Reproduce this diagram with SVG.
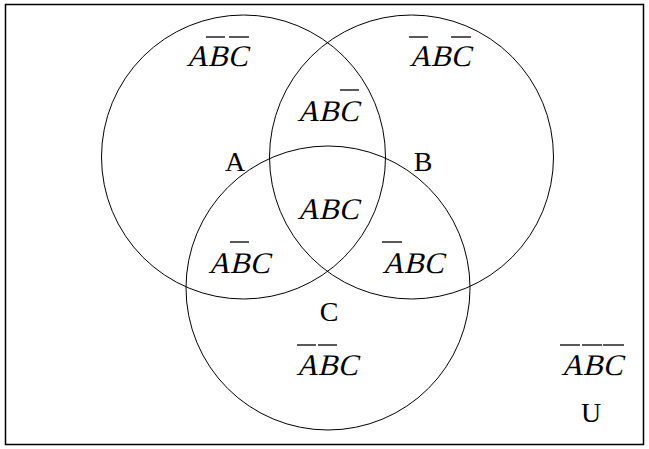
<svg xmlns="http://www.w3.org/2000/svg" width="649" height="449" viewBox="0 0 649 449">
<style>
.c{fill:none;stroke:#000;stroke-width:1}
.t{font-family:"Liberation Serif",serif;font-size:30px;text-anchor:middle;fill:#000}
.l{font-family:"Liberation Serif",serif;font-size:28px;text-anchor:middle;fill:#000}
.o{stroke:#000;stroke-width:1.3}
</style>
<rect x="5.5" y="4.5" width="638" height="440" fill="#fff" stroke="#000" stroke-width="1.5"/>
<g id="setA"><circle class="c" cx="243.5" cy="157" r="142"/><text class="l" x="235" y="171">A</text></g>
<g id="setB"><circle class="c" cx="411.5" cy="157" r="142"/><text class="l" x="423" y="171">B</text></g>
<g id="setC"><circle class="c" cx="328" cy="288" r="142"/><text class="l" x="329" y="321">C</text></g>
<g id="connectors"></g>
<g id="regions">
<g id="r1"><text class="t" transform="translate(217,66) skewX(-14)">ABC</text><line class="o" x1="206" y1="37" x2="225" y2="37"/><line class="o" x1="229" y1="37" x2="249" y2="37"/></g>
<g id="r2"><text class="t" transform="translate(440,66) skewX(-14)">ABC</text><line class="o" x1="409" y1="37" x2="428" y2="37"/><line class="o" x1="451" y1="37" x2="471" y2="37"/></g>
<g id="r3"><text class="t" transform="translate(328,121) skewX(-14)">ABC</text><line class="o" x1="340" y1="90" x2="359" y2="90"/></g>
<g id="r4"><text class="t" transform="translate(328,219) skewX(-14)">ABC</text></g>
<g id="r5"><text class="t" transform="translate(239,273) skewX(-14)">ABC</text><line class="o" x1="230" y1="242" x2="249" y2="242"/></g>
<g id="r6"><text class="t" transform="translate(413,273) skewX(-14)">ABC</text><line class="o" x1="382" y1="242" x2="402" y2="242"/></g>
<g id="r7"><text class="t" transform="translate(327,375) skewX(-14)">ABC</text><line class="o" x1="297" y1="345" x2="316" y2="345"/><line class="o" x1="318" y1="345" x2="337" y2="345"/></g>
<g id="r8"><text class="t" transform="translate(592,375) skewX(-14)">ABC</text><line class="o" x1="560" y1="345" x2="580" y2="345"/><line class="o" x1="582" y1="345" x2="602" y2="345"/><line class="o" x1="603" y1="345" x2="624" y2="345"/></g>
<g id="u"><text class="l" x="591" y="422">U</text></g>
</g>
</svg>
